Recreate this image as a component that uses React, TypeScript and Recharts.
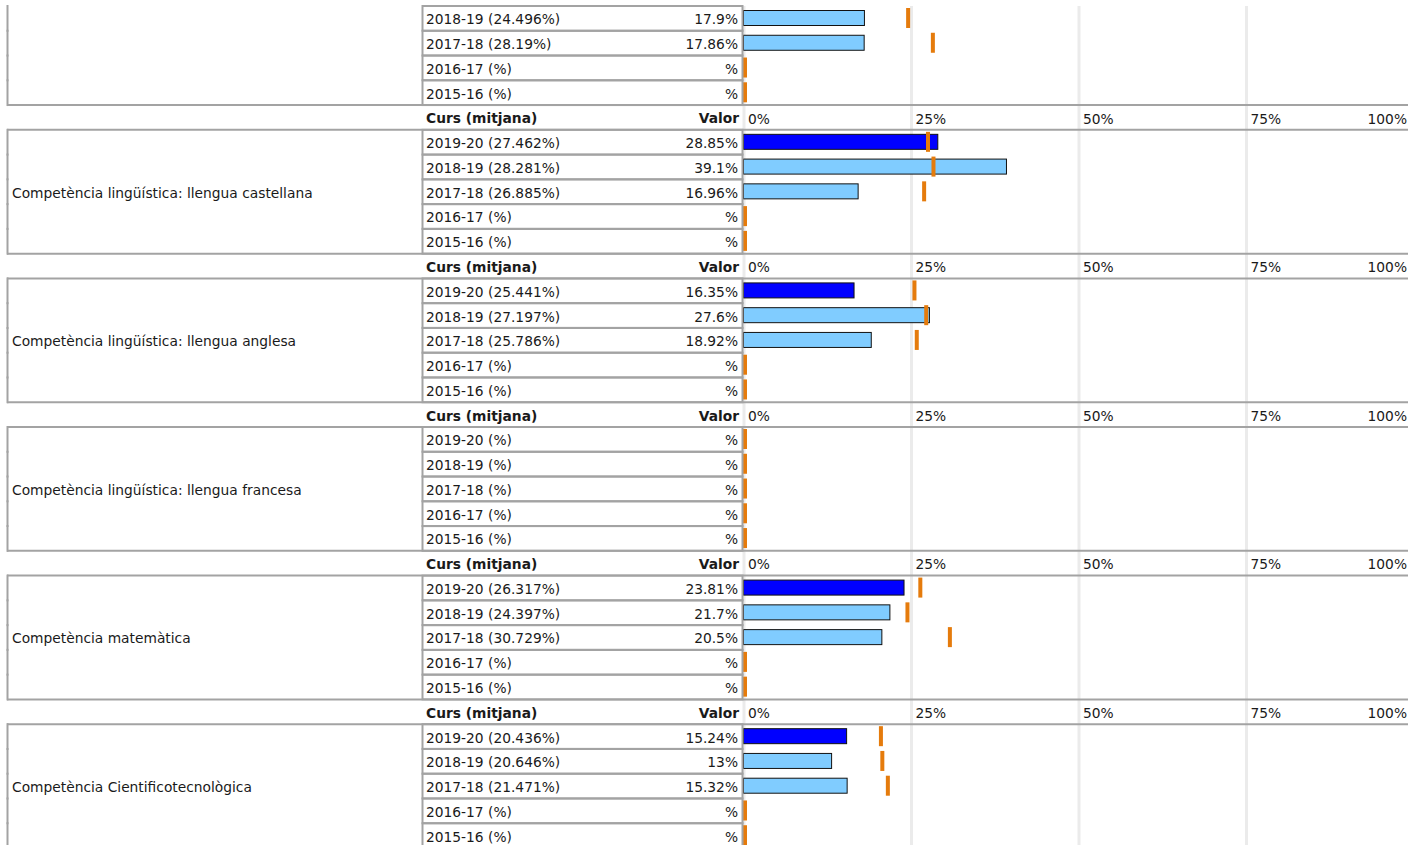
import React from "react";
import { ComposedChart, Bar, XAxis, YAxis, CartesianGrid } from "recharts";

// groups (first one is cut off at the top of the page)
const groups = [
  "",
  "Competència lingüística: llengua castellana",
  "Competència lingüística: llengua anglesa",
  "Competència lingüística: llengua francesa",
  "Competència matemàtica",
  "Competència Cientificotecnològica",
];
const courses = ["2019-20", "2018-19", "2017-18", "2016-17", "2015-16"];
// first visible course of each group
const firstCourse = [1, 0, 0, 0, 0, 0];

const valors: (number | null)[][] = [
  [null, 17.9, 17.86, null, null],
  [28.85, 39.1, 16.96, null, null],
  [16.35, 27.6, 18.92, null, null],
  [null, null, null, null, null],
  [23.81, 21.7, 20.5, null, null],
  [15.24, 13, 15.32, null, null],
];
const mitjanes: (number | null)[][] = [
  [null, 24.496, 28.19, null, null],
  [27.462, 28.281, 26.885, null, null],
  [25.441, 27.197, 25.786, null, null],
  [null, null, null, null, null],
  [26.317, 24.397, 30.729, null, null],
  [20.436, 20.646, 21.471, null, null],
];
const axisTicks = [0, 25, 50, 75, 100];

type Row = {
  key: string;
  kind: "head" | "data";
  group: number;
  label?: string;
  valorText?: string;
  valor?: number | null;
  marker?: number;
  escala?: number;
  middle?: boolean;
  current?: boolean;
};

const rows: Row[] = [];
groups.forEach((g, gi) => {
  if (gi > 0) rows.push({ key: `h${gi}`, kind: "head", group: gi, escala: 100 });
  courses.forEach((c, ci) => {
    if (ci < firstCourse[gi]) return;
    const v = valors[gi][ci];
    const m = mitjanes[gi][ci];
    rows.push({
      key: `${gi}-${c}`,
      kind: "data",
      group: gi,
      label: `${c} (${m ?? ""}%)`,
      valorText: `${v ?? ""}%`,
      valor: v,
      marker: m ?? 0,
      middle: ci === 2,
      current: ci === 0,
    });
  });
});

const W = 1420;
const H = 848;
const TOP = 6;
const LEFT = 744;
const RIGHT = 6;
const BAND = (H - TOP) / rows.length;

const BORDER = "#a3a3a3";
const BLUE = "#0000ff";
const LIGHT = "#80ccff";
const ORANGE = "#e57b0c";
const TEXT = "#1a1a1a";
const FONT = "DejaVu Sans, Verdana, sans-serif";
const FS = 13.8;

function RowTick(props: any) {
  const { y, payload } = props;
  const row = rows.find((r) => r.key === payload.value);
  if (!row) return null;
  const t = y - BAND / 2;
  const b = y + BAND / 2;
  if (row.kind === "head") {
    return (
      <g>
        <line x1={7} x2={W} y1={t} y2={t} stroke={BORDER} strokeWidth={2} />
        <line x1={7} x2={W} y1={b} y2={b} stroke={BORDER} strokeWidth={2} />
        <text x={426} y={y + 1} dy="0.36em" fontFamily={FONT} fontSize={FS} fontWeight="bold" fill={TEXT}>
          Curs (mitjana)
        </text>
        <text x={739} y={y + 1} dy="0.36em" textAnchor="end" fontFamily={FONT} fontSize={FS} fontWeight="bold" fill={TEXT}>
          Valor
        </text>
      </g>
    );
  }
  return (
    <g>
      <line x1={7.5} x2={7.5} y1={t - 1} y2={b + 1} stroke={BORDER} strokeWidth={2} />
      <rect x={422.5} y={t} width={320} height={b - t} fill="none" stroke={BORDER} strokeWidth={2} />
      {row.middle && groups[row.group] ? (
        <text x={12} y={y + 1} dy="0.36em" fontFamily={FONT} fontSize={FS} fill={TEXT}>
          {groups[row.group]}
        </text>
      ) : null}
      <text x={426} y={y + 1} dy="0.36em" fontFamily={FONT} fontSize={FS} fill={TEXT}>
        {row.label}
      </text>
      <text x={738} y={y + 1} dy="0.36em" textAnchor="end" fontFamily={FONT} fontSize={FS} fill={TEXT}>
        {row.valorText}
      </text>
    </g>
  );
}

const ValorShape = (p: any) => {
  const { x, y, width, height, payload } = p;
  if (payload?.valor == null || !Number.isFinite(width) || !Number.isFinite(x)) return <g />;
  return (
    <rect
      x={x - 0.5}
      y={y + 0.5}
      width={width + 1}
      height={height - 1}
      fill={payload.current ? BLUE : LIGHT}
      stroke="#111"
      strokeWidth={1}
    />
  );
};

const MarkerShape = (p: any) => {
  const { x, y, width, height, payload } = p;
  if (payload?.kind !== "data" || !Number.isFinite(width) || !Number.isFinite(x)) return <g />;
  const end = x + width;
  return <rect x={Math.max(end - 2, x - 1)} y={y} width={4} height={height} fill={ORANGE} />;
};

const HeaderShape = (p: any) => {
  const { x, y, width, height, payload } = p;
  if (payload?.kind !== "head" || !Number.isFinite(width)) return <g />;
  const cy = y + height / 2 + 1;
  return (
    <g>
      {axisTicks.map((t) =>
        t < 100 ? (
          <text key={t} x={x + (width * t) / 100 + 4} y={cy} dy="0.36em" fontFamily={FONT} fontSize={FS} fill={TEXT}>
            {`${t}%`}
          </text>
        ) : (
          <text key={t} x={x + width - 7} y={cy} dy="0.36em" textAnchor="end" fontFamily={FONT} fontSize={FS} fill={TEXT}>
            {`${t}%`}
          </text>
        )
      )}
    </g>
  );
};

export default function App() {
  return (
    <div
      style={{
        position: "absolute",
        left: 0,
        top: 0,
        width: 1408,
        height: 845,
        overflow: "hidden",
        background: "#fff",
      }}
    >
      <ComposedChart
        width={W}
        height={H}
        data={rows}
        layout="vertical"
        barCategoryGap={0}
        margin={{ top: TOP, right: RIGHT, bottom: 0, left: 0 }}
      >
        <CartesianGrid
          horizontal={false}
          stroke="#ebebeb"
          strokeWidth={3}
          verticalCoordinatesGenerator={({ xAxis, offset }: any) =>
            axisTicks
              .slice(0, 4)
              .map((t) =>
                xAxis && typeof xAxis.scale === "function"
                  ? xAxis.scale(t)
                  : offset.left + (offset.width * t) / 100
              )
          }
        />
        <XAxis type="number" domain={[0, 100]} ticks={axisTicks} hide />
        <YAxis
          yAxisId="rows"
          type="category"
          dataKey="key"
          width={LEFT}
          axisLine={false}
          tickLine={false}
          interval={0}
          tick={(p: any) => <RowTick {...p} />}
        />
        <YAxis yAxisId="v" type="category" dataKey="key" hide />
        <YAxis yAxisId="m" type="category" dataKey="key" hide />
        <Bar yAxisId="rows" dataKey="escala" shape={HeaderShape} isAnimationActive={false} />
        <Bar yAxisId="v" dataKey="valor" barSize={16} shape={ValorShape} isAnimationActive={false} />
        <Bar yAxisId="m" dataKey="marker" barSize={20} shape={MarkerShape} isAnimationActive={false} />
      </ComposedChart>
    </div>
  );
}
